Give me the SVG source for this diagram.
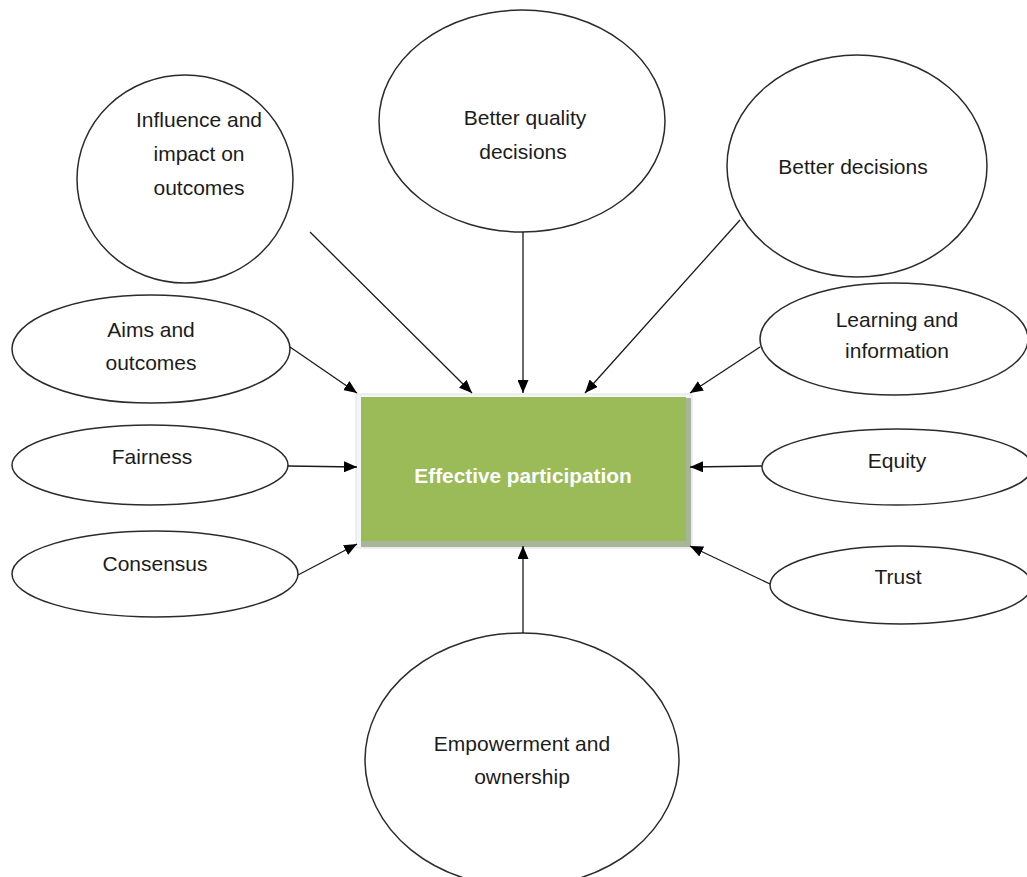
<svg xmlns="http://www.w3.org/2000/svg" width="1027" height="877" viewBox="0 0 1027 877">
<style>
.n ellipse{fill:#fff;stroke:#2b2b2b;stroke-width:1.5}
.t{font-family:"Liberation Sans",Arial,sans-serif;font-size:21px;fill:#1c1c1c;text-anchor:middle}
.c line{stroke:#1a1a1a;stroke-width:1.3;marker-end:url(#ah)}
</style>
<defs>
<marker id="ah" viewBox="0 0 13 11" refX="13" refY="5.5" markerWidth="13" markerHeight="11" markerUnits="userSpaceOnUse" orient="auto">
<path d="M0,0 L13,5.5 L0,11 Z" fill="#000"/>
</marker>
</defs>
<rect width="1027" height="877" fill="#fff"/>
<g id="n-influence" class="n"><ellipse cx="185" cy="179" rx="108" ry="104"/><text class="t" x="199" y="127">Influence and</text><text class="t" x="199" y="161">impact on</text><text class="t" x="199" y="195">outcomes</text></g>
<g id="n-betterquality" class="n"><ellipse cx="522" cy="121" rx="143" ry="111"/><text class="t" x="525" y="125">Better quality</text><text class="t" x="523" y="159">decisions</text></g>
<g id="n-betterdecisions" class="n"><ellipse cx="857" cy="166" rx="130" ry="111"/><text class="t" x="853" y="174">Better decisions</text></g>
<g id="n-aims" class="n"><ellipse cx="151" cy="349" rx="139" ry="54"/><text class="t" x="151" y="337">Aims and</text><text class="t" x="151" y="370">outcomes</text></g>
<g id="n-fairness" class="n"><ellipse cx="150" cy="465" rx="138" ry="40"/><text class="t" x="152" y="464">Fairness</text></g>
<g id="n-consensus" class="n"><ellipse cx="155" cy="574" rx="143" ry="43"/><text class="t" x="155" y="571">Consensus</text></g>
<g id="n-learning" class="n"><ellipse cx="894" cy="339" rx="134" ry="56"/><text class="t" x="897" y="327">Learning and</text><text class="t" x="897" y="358">information</text></g>
<g id="n-equity" class="n"><ellipse cx="897" cy="467" rx="135" ry="38"/><text class="t" x="897" y="468">Equity</text></g>
<g id="n-trust" class="n"><ellipse cx="901" cy="585" rx="131" ry="39"/><text class="t" x="898" y="584">Trust</text></g>
<g id="n-empowerment" class="n"><ellipse cx="522" cy="760" rx="157" ry="127"/><text class="t" x="522" y="751">Empowerment and</text><text class="t" x="522" y="784">ownership</text></g>
<g id="n-center">
<rect x="356" y="394" width="336" height="154" fill="#f3f5f7" stroke="#dde2e8" stroke-width="1"/>
<rect x="686" y="398" width="5" height="149" fill="#a9b59a"/>
<rect x="361" y="541" width="330" height="6" fill="#a9b59a"/>
<rect x="361" y="397" width="325" height="144" fill="#9bbb59"/>
<text x="523" y="483" font-family="'Liberation Sans',Arial,sans-serif" font-size="20.8" font-weight="bold" fill="#fff" text-anchor="middle">Effective participation</text>
</g>
<g id="connectors" class="c">
<line x1="310" y1="232" x2="472" y2="393"/>
<line x1="523" y1="232" x2="523" y2="393"/>
<line x1="740" y1="220" x2="585" y2="393"/>
<line x1="290" y1="347" x2="357" y2="393"/>
<line x1="760" y1="347" x2="690" y2="393"/>
<line x1="288" y1="466" x2="357" y2="467"/>
<line x1="762" y1="466" x2="690" y2="467"/>
<line x1="298" y1="575" x2="357" y2="544"/>
<line x1="770" y1="584" x2="690" y2="546"/>
<line x1="523" y1="633" x2="523" y2="546"/>
</g>
</svg>
